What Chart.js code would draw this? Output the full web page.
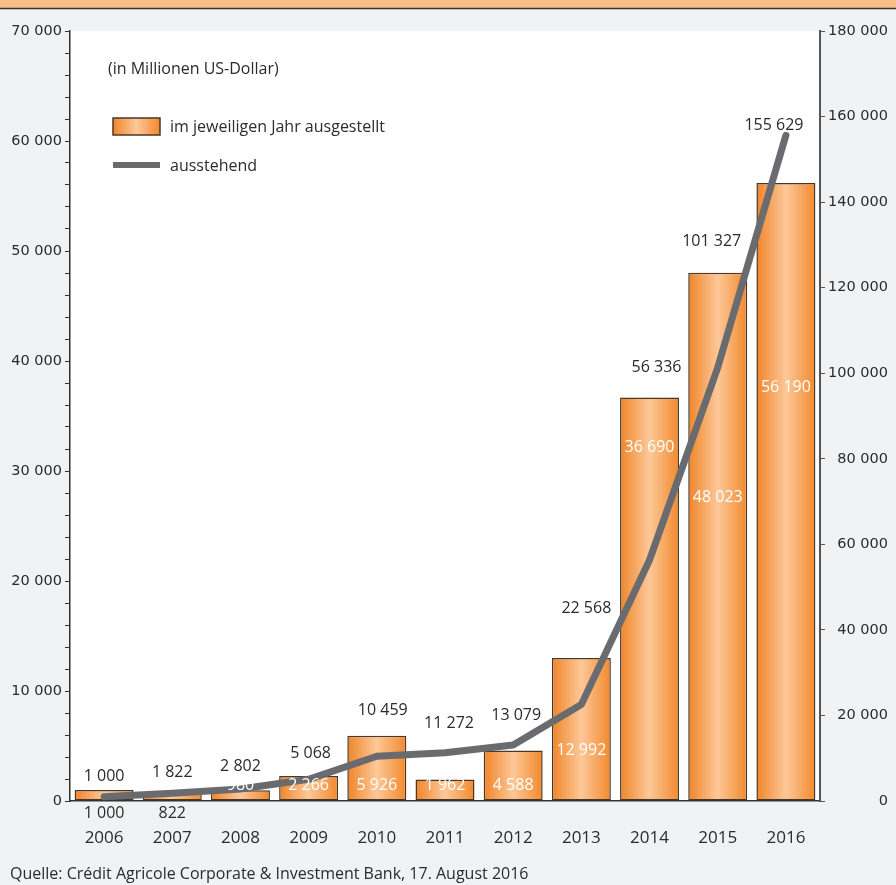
<!DOCTYPE html>
<html>
<head>
<meta charset="utf-8">
<script src="https://cdn.jsdelivr.net/npm/chart.js@4"></script>
<style>
  body { margin: 0; background: #f1f2f4; }
  canvas { display: block; }
</style>
</head>
<body>
<canvas id="chart" width="896" height="885"></canvas>
<script>
// values from the chart (in Millionen US-Dollar)
const years = ["2006", "2007", "2008", "2009", "2010", "2011", "2012", "2013", "2014", "2015", "2016"];
const issued = [1000, 822, 980, 2266, 5926, 1962, 4588, 12992, 36690, 48023, 56190];
const outstanding = [1000, 1822, 2802, 5068, 10459, 11272, 13079, 22568, 56336, 101327, 155629];
const leftMax = 70000, leftStep = 10000, leftMinor = 2000;
const rightMax = 180000, rightStep = 20000;

const TXT = "#2b2b2b";
const AXIS = "#333333";
const LABEL_FONT = "'Open Sans', sans-serif";
const TICK_FONT = "'DejaVu Sans', sans-serif";

const fmt = v => String(v).replace(/\B(?=(\d{3})+(?!\d))/g, " ");

function barGradient(ctx, x0, x1) {
    const g = ctx.createLinearGradient(x0, 0, x1, 0);
    g.addColorStop(0, "#f0852a");
    g.addColorStop(0.5, "#fdc898");
    g.addColorStop(1, "#f2892c");
    return g;
}

const BAR_PCT = 0.865;

// label placement (pixels): rise above bar top / line point, and small x nudges
const lineLabelRise = [14, 20, 23, 23, 25, 29, 30, 50, 30, 31, 10];
const lineLabelShift = [0, 0, 0, 2, 6, 4, 3, 5, 7, -6, -12];
const barLabelRise = [-12, -12, 16, 16, 16, 16, 16, 51, 354, 304, 414];

const background = {
    id: "background",
    beforeDraw(chart) {
        const { ctx, chartArea: a } = chart;
        ctx.save();
        ctx.fillStyle = "#f1f2f4";
        ctx.fillRect(0, 0, chart.width, chart.height);
        ctx.fillStyle = "#fbbd86";
        ctx.fillRect(0, 0, chart.width, 8);
        ctx.strokeStyle = "#333";
        ctx.lineWidth = 1.5;
        ctx.beginPath();
        ctx.moveTo(0, 8.5);
        ctx.lineTo(chart.width, 8.5);
        ctx.stroke();
        ctx.fillStyle = "#ffffff";
        ctx.fillRect(a.left, a.top, a.right - a.left, a.bottom - a.top);
        ctx.restore();
    }
};

const labels = {
    id: "labels",
    afterDatasetsDraw(chart) {
        const { ctx } = chart;
        const x = chart.scales.x, y = chart.scales.y, y1 = chart.scales.y1;
        const base = y.getPixelForValue(0);
        ctx.save();
        ctx.font = "16px " + LABEL_FONT;
        ctx.textAlign = "center";
        ctx.textBaseline = "middle";
        years.forEach((yr, i) => {
            const cx = x.getPixelForValue(i);
            const barTop = y.getPixelForValue(issued[i]);
            const pt = y1.getPixelForValue(outstanding[i]);
            ctx.fillStyle = TXT;
            ctx.fillText(fmt(outstanding[i]), cx + lineLabelShift[i], Math.min(barTop, pt) - lineLabelRise[i]);
            const r = barLabelRise[i];
            ctx.fillStyle = r < 0 ? TXT : "#ffffff";
            ctx.fillText(fmt(issued[i]), cx, base - r);
        });
        ctx.restore();
    },
    afterDraw(chart) {
        const { ctx } = chart;
        ctx.save();
        ctx.font = "16px " + LABEL_FONT;
        ctx.fillStyle = TXT;
        ctx.textAlign = "left";
        ctx.textBaseline = "middle";
        ctx.fillText("(in Millionen US-Dollar)", 108, 69);

        ctx.fillStyle = barGradient(ctx, 113, 160);
        ctx.fillRect(113, 118, 47, 17);
        ctx.strokeStyle = "#4a3726";
        ctx.lineWidth = 1.5;
        ctx.strokeRect(113, 118, 47, 17);
        ctx.fillStyle = TXT;
        ctx.fillText("im jeweiligen Jahr ausgestellt", 170, 127);

        ctx.fillStyle = "#6a6b6f";
        ctx.fillRect(113, 162, 47, 6);
        ctx.fillStyle = TXT;
        ctx.fillText("ausstehend", 170, 166);

        ctx.font = "16px " + LABEL_FONT;
        ctx.fillText("Quelle: Crédit Agricole Corporate & Investment Bank, 17. August 2016", 10, 874);
        ctx.restore();
    }
};

const ctx = document.getElementById("chart").getContext("2d");

new Chart(ctx, {
    data: {
        labels: years,
        datasets: [
            {
                type: "line",
                label: "ausstehend",
                data: outstanding,
                yAxisID: "y1",
                borderColor: "#6a6b6f",
                borderWidth: 7,
                borderCapStyle: "round",
                borderJoinStyle: "round",
                pointRadius: 0,
                tension: 0,
                order: 0,
            },
            {
                type: "bar",
                label: "im jeweiligen Jahr ausgestellt",
                data: issued,
                yAxisID: "y",
                backgroundColor: (c) => {
                    const xs = c.chart.scales.x;
                    if (!xs || c.dataIndex === undefined) return "#f5a05a";
                    const cx = xs.getPixelForValue(c.dataIndex);
                    const half = (xs.width / years.length) * BAR_PCT / 2;
                    if (!isFinite(cx) || !isFinite(half) || half <= 0) return "#f5a05a";
                    return barGradient(c.chart.ctx, cx - half, cx + half);
                },
                borderColor: "#4a3726",
                borderWidth: 1.5,
                borderSkipped: false,
                barPercentage: BAR_PCT,
                categoryPercentage: 1,
                order: 1,
            },
        ],
    },
    options: {
        responsive: false,
        maintainAspectRatio: false,
        animation: false,
        layout: { padding: { top: 31, right: 8, left: 0, bottom: 0 } },
        plugins: {
            legend: { display: false },
            tooltip: { enabled: false },
        },
        scales: {
            x: {
                offset: true,
                grid: { display: false, drawTicks: false },
                border: { display: true, color: AXIS, width: 1.5 },
                ticks: { color: TXT, font: { family: LABEL_FONT, size: 17 }, padding: 27 },
                afterFit: s => { s.height = 84; s.paddingLeft = 0; s.paddingRight = 0; },
            },
            y: {
                position: "left",
                min: 0,
                max: leftMax,
                ticks: {
                    stepSize: leftMinor,
                    autoSkip: false,
                    color: TXT,
                    padding: 3,
                    font: { family: TICK_FONT, size: 14.5 },
                    callback: v => (v % leftStep === 0 ? fmt(v) : ""),
                },
                grid: { drawOnChartArea: false, drawTicks: true, tickLength: 5, color: AXIS, lineWidth: 1 },
                border: { color: AXIS, width: 1.5 },
                afterFit: s => { s.width = 70; s.paddingTop = 0; s.paddingBottom = 0; },
            },
            y1: {
                position: "right",
                min: 0,
                max: rightMax,
                ticks: {
                    stepSize: rightStep,
                    color: TXT,
                    padding: 4,
                    crossAlign: "far",
                    font: { family: TICK_FONT, size: 14.5 },
                    callback: v => fmt(v),
                },
                grid: { drawOnChartArea: false, drawTicks: true, tickLength: 5, color: "#555", lineWidth: 1 },
                border: { color: "#555", width: 2 },
                afterFit: s => { s.width = 68; s.paddingTop = 0; s.paddingBottom = 0; },
            },
        },
    },
    plugins: [background, labels],
});
</script>
</body>
</html>
